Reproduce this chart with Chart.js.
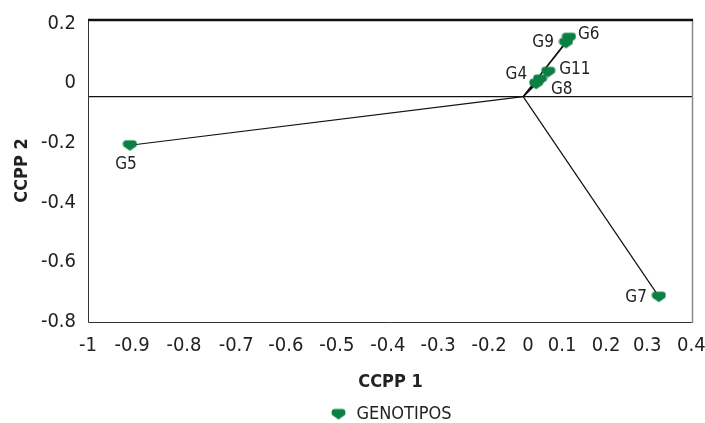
<!DOCTYPE html>
<html>
<head>
<meta charset="utf-8">
<script src="https://cdn.jsdelivr.net/npm/chart.js@4.4.1/dist/chart.umd.min.js"></script>
<style>
  html, body { margin: 0; padding: 0; background: #ffffff; }
  #wrap { width: 705px; height: 423px; }
</style>
</head>
<body>
<div id="wrap"><canvas id="c" width="705" height="423"></canvas></div>
<script>
// Genotype scores on the first two canonical components
const genotypes = ['G5', 'G7', 'G6', 'G9', 'G11', 'G4', 'G8'];
const ccpp1 = [-0.903, 0.321, 0.113, 0.106, 0.065, 0.037, 0.046];
const ccpp2 = [-0.208, -0.715, 0.152, 0.135, 0.038, -0.002, 0.012];

// Common origin of the genotype vectors
const vectorOrigin = [0.007, -0.045];

// Axis tick labels and where they sit on each axis
const xTickLabels = ['-1', '-0.9', '-0.8', '-0.7', '-0.6', '-0.5', '-0.4', '-0.3', '-0.2', '0', '0.1', '0.2', '0.3', '0.4'];
const xTickAt = [-1, -0.898, -0.778, -0.657, -0.542, -0.424, -0.306, -0.190, -0.072, 0.018, 0.097, 0.199, 0.294, 0.396];
const yTickLabels = ['0.2', '0', '-0.2', '-0.4', '-0.6', '-0.8'];
const yTickAt = [0.2, 0, -0.2, -0.4, -0.6, -0.8];

// Where each genotype name is written relative to its marker
const labelPlacement = {
  G5:  { dx: -4,  dy: 19, align: 'center' },
  G7:  { dx: -12, dy: 1,  align: 'right' },
  G6:  { dx: 9,   dy: -3, align: 'left' },
  G9:  { dx: -12, dy: 0,  align: 'right' },
  G11: { dx: 11,  dy: -2, align: 'left' },
  G4:  { dx: -9,  dy: -9, align: 'right' },
  G8:  { dx: 11,  dy: 10, align: 'left' }
};

const GREEN = '#0a8043';
const INK = '#222222';
const FONT = "'Liberation Sans Narrow', 'Arial Narrow', 'DejaVu Sans Condensed', sans-serif";

// Shield-shaped marker used for the genotype points and the legend
function makeMarker() {
  const cv = document.createElement('canvas');
  cv.width = 15; cv.height = 13;
  const g = cv.getContext('2d');
  g.fillStyle = GREEN;
  g.beginPath();
  g.moveTo(3, 1.5);
  g.lineTo(12, 1.5);
  g.quadraticCurveTo(14.5, 2, 14.5, 5);
  g.lineTo(14, 7.5);
  g.lineTo(7.5, 12);
  g.lineTo(1, 7.5);
  g.lineTo(0.5, 5);
  g.quadraticCurveTo(0.5, 2, 3, 1.5);
  g.closePath();
  g.fill();
  return cv;
}
const marker = makeMarker();

const vectorSets = genotypes.map((name, i) => ({
  label: 'vec-' + name,
  data: [{ x: vectorOrigin[0], y: vectorOrigin[1] }, { x: ccpp1[i], y: ccpp2[i] }],
  showLine: true,
  borderColor: '#111111',
  borderWidth: 1.2,
  pointRadius: 0,
  pointHoverRadius: 0,
  order: 2
}));

const baseLine = {
  label: 'base',
  data: [{ x: -1, y: vectorOrigin[1] }, { x: 0.4, y: vectorOrigin[1] }],
  showLine: true,
  borderColor: '#111111',
  borderWidth: 1.2,
  pointRadius: 0,
  order: 3
};

const pointsSet = {
  label: 'GENOTIPOS',
  data: genotypes.map((name, i) => ({ x: ccpp1[i], y: ccpp2[i] })),
  showLine: false,
  pointStyle: marker,
  pointRadius: 7,
  backgroundColor: GREEN,
  borderColor: GREEN,
  order: 1
};

// Frame around the plotting area
const framePlugin = {
  id: 'frame',
  afterDatasetsDraw(chart) {
    const a = chart.chartArea;
    const ctx = chart.ctx;
    ctx.save();
    ctx.strokeStyle = '#333333';
    ctx.lineWidth = 1;
    ctx.beginPath();
    ctx.moveTo(a.left + 0.5, a.top);
    ctx.lineTo(a.left + 0.5, a.bottom + 0.5);
    ctx.lineTo(a.right, a.bottom + 0.5);
    ctx.stroke();
    ctx.strokeStyle = '#8a8a8a';
    ctx.lineWidth = 1.5;
    ctx.beginPath();
    ctx.moveTo(a.right - 0.5, a.top);
    ctx.lineTo(a.right - 0.5, a.bottom + 1);
    ctx.stroke();
    ctx.strokeStyle = '#111111';
    ctx.lineWidth = 2.5;
    ctx.beginPath();
    ctx.moveTo(a.left, a.top + 1);
    ctx.lineTo(a.right, a.top + 1);
    ctx.stroke();
    ctx.restore();
  }
};

// Genotype names next to their markers
const namePlugin = {
  id: 'names',
  afterDatasetsDraw(chart) {
    const idx = chart.data.datasets.findIndex(d => d.label === 'GENOTIPOS');
    const meta = chart.getDatasetMeta(idx);
    const ctx = chart.ctx;
    ctx.save();
    ctx.font = "17px " + FONT;
    ctx.fillStyle = INK;
    ctx.textBaseline = 'middle';
    meta.data.forEach((pt, i) => {
      const p = labelPlacement[genotypes[i]];
      ctx.textAlign = p.align;
      ctx.fillText(genotypes[i], pt.x + p.dx, pt.y + p.dy);
    });
    ctx.restore();
  }
};

new Chart(document.getElementById('c'), {
  type: 'scatter',
  data: { datasets: [baseLine, ...vectorSets, pointsSet] },
  options: {
    responsive: false,
    animation: false,
    layout: { padding: { top: 19, right: 12, left: 0, bottom: -10 } },
    plugins: {
      legend: {
        position: 'bottom',
        fullSize: false,
        labels: {
          filter: item => item.text === 'GENOTIPOS',
          usePointStyle: true,
          color: INK,
          font: { family: FONT, size: 18 },
          padding: 2
        }
      },
      tooltip: { enabled: false }
    },
    scales: {
      x: {
        type: 'linear',
        min: -1,
        max: 0.4,
        grid: { display: false, drawTicks: false },
        border: { display: false },
        afterBuildTicks: s => { s.ticks = xTickAt.map(v => ({ value: v })); },
        afterFit: s => { s.height = 81; s.paddingLeft = 0; s.paddingRight = 0; },
        ticks: {
          autoSkip: false,
          maxRotation: 0,
          padding: 12,
          color: INK,
          font: { family: FONT, size: 20 },
          callback: (v, i) => xTickLabels[i]
        },
        title: {
          display: true,
          text: 'CCPP 1',
          color: INK,
          font: { family: FONT, size: 18, weight: 'bold' },
          padding: { top: 14, bottom: 10 }
        }
      },
      y: {
        type: 'linear',
        min: -0.8,
        max: 0.215,
        grid: { display: false, drawTicks: false },
        border: { display: false },
        afterBuildTicks: s => { s.ticks = yTickAt.map(v => ({ value: v })); },
        afterFit: s => { s.width = 88; s.paddingTop = 0; s.paddingBottom = 0; },
        ticks: {
          autoSkip: false,
          padding: 12,
          color: INK,
          font: { family: FONT, size: 20 },
          callback: (v, i) => yTickLabels[i]
        },
        title: {
          display: true,
          text: 'CCPP 2',
          color: INK,
          font: { family: FONT, size: 18, weight: 'bold' },
          padding: { top: 12, bottom: 0 }
        }
      }
    }
  },
  plugins: [framePlugin, namePlugin]
});
</script>
</body>
</html>
